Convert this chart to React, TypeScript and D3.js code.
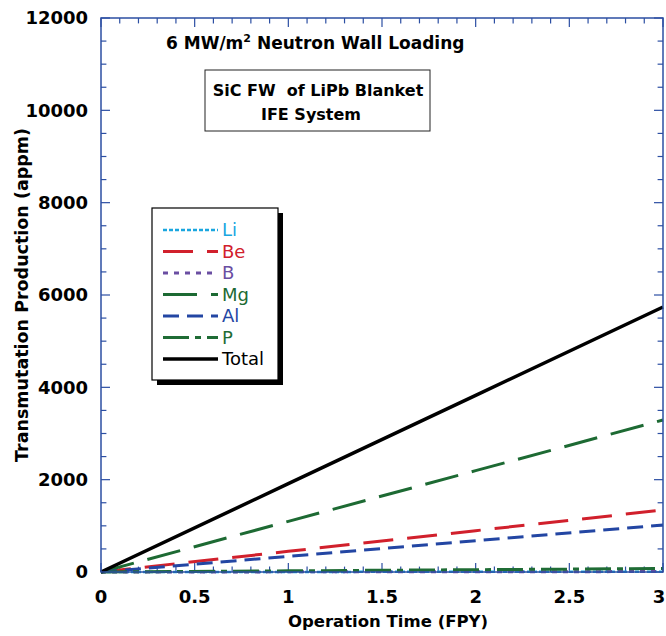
import * as d3 from "d3";
import React, { useEffect, useRef } from "react";

// operation time (FPY)
const times = [0, 1, 2, 3];
// transmutation production (appm) per element
const li = [0, 2, 4, 6];
const be = [0, 448, 895, 1343];
const b = [0, 3, 6, 9];
const mg = [0, 1097, 2195, 3292];
const al = [0, 339, 679, 1018];
const p = [0, 25, 50, 75];
const total = [0, 1913, 3827, 5740];

const names = ["Li", "Be", "B", "Mg", "Al", "P", "Total"];
const values = [li, be, b, mg, al, p, total];
const colors = ["#1aa6df", "#d1202c", "#6a4ea2", "#1d6a33", "#2346a3", "#1f6c35", "#000000"];
const dashes = ["4,2", "30,14", "5,6", "34,14", "16,8", "26,6,6,6", null];
const widths = [2.5, 3, 3, 3, 3, 3, 3.5];

const yTicks = [0, 2000, 4000, 6000, 8000, 10000, 12000];
const xTicks = [0, 0.5, 1, 1.5, 2, 2.5, 3];

const FONT = "'DejaVu Sans', Verdana, sans-serif";
const AXIS = "#2c4fa3";

export default function App() {
    const ref = useRef<SVGSVGElement>(null);

    useEffect(() => {
        document.body.style.margin = "0";
        const svg = d3.select(ref.current);
        svg.selectAll("*").remove();

        const left = 101, right = 663, top = 18, bottom = 572;
        const x = d3.scaleLinear().domain([0, 3]).range([left, right]);
        const y = d3.scaleLinear().domain([0, 12000]).range([bottom, top]);

        const g = svg.append("g");

        // minor / major ticks on all sides, pointing inward
        const xMinor = d3.range(0, 3.0001, 0.1);
        const yMinor = d3.range(0, 12001, 500);
        const tick = (len: number, major: boolean) => (major ? len : len * 0.6);

        xMinor.forEach((v) => {
            const major = Math.abs(v * 2 - Math.round(v * 2)) < 1e-6;
            const l = tick(9, major);
            g.append("line").attr("x1", x(v)).attr("x2", x(v)).attr("y1", bottom).attr("y2", bottom - l)
                .attr("stroke", AXIS).attr("stroke-width", 1.2);
            g.append("line").attr("x1", x(v)).attr("x2", x(v)).attr("y1", top).attr("y2", top + l)
                .attr("stroke", AXIS).attr("stroke-width", 1.2);
        });
        yMinor.forEach((v) => {
            const major = v % 2000 === 0;
            const l = tick(9, major);
            g.append("line").attr("y1", y(v)).attr("y2", y(v)).attr("x1", left).attr("x2", left + l)
                .attr("stroke", AXIS).attr("stroke-width", 1.2);
            g.append("line").attr("y1", y(v)).attr("y2", y(v)).attr("x1", right).attr("x2", right - l)
                .attr("stroke", AXIS).attr("stroke-width", 1.2);
        });

        // data lines
        const line = d3.line<number>().x((_, i) => x(times[i])).y((d) => y(d));
        values.forEach((vals, i) => {
            g.append("path")
                .attr("d", line(vals))
                .attr("fill", "none")
                .attr("stroke", colors[i])
                .attr("stroke-width", widths[i])
                .attr("stroke-dasharray", dashes[i]);
        });

        // frame
        g.append("rect").attr("x", left).attr("y", top).attr("width", right - left).attr("height", bottom - top)
            .attr("fill", "none").attr("stroke", AXIS).attr("stroke-width", 1.5);

        // tick labels
        g.selectAll(null).data(yTicks).join("text")
            .attr("x", 88).attr("y", (d) => y(d)).attr("dy", "0.36em")
            .attr("text-anchor", "end").attr("font-family", FONT).attr("font-weight", "bold")
            .attr("font-size", 18).text((d) => d);
        g.selectAll(null).data(xTicks).join("text")
            .attr("x", (d) => Math.min(x(d), 659)).attr("y", 603)
            .attr("text-anchor", "middle").attr("font-family", FONT).attr("font-weight", "bold")
            .attr("font-size", 18).text((d) => d);

        // axis titles
        g.append("text").attr("x", 388).attr("y", 627)
            .attr("text-anchor", "middle").attr("font-family", FONT).attr("font-weight", "bold")
            .attr("font-size", 16.5).text("Operation Time (FPY)");
        g.append("text").attr("transform", `translate(28, ${(top + bottom) / 2}) rotate(-90)`)
            .attr("text-anchor", "middle").attr("font-family", FONT).attr("font-weight", "bold")
            .attr("font-size", 17.5).text("Transmutation Production (appm)");

        // title
        const t = g.append("text").attr("x", 166).attr("y", 49).attr("font-family", FONT)
            .attr("font-weight", "bold").attr("font-size", 17);
        t.append("tspan").text("6 MW/m");
        t.append("tspan").attr("font-size", 11).attr("dy", -7).text("2");
        t.append("tspan").attr("dy", 7).text(" Neutron Wall Loading");

        // subtitle box
        g.append("rect").attr("x", 205).attr("y", 70).attr("width", 225).attr("height", 61)
            .attr("fill", "white").attr("stroke", "#222").attr("stroke-width", 1);
        g.append("text").attr("x", 318).attr("y", 96).attr("text-anchor", "middle").attr("font-family", FONT)
            .attr("font-weight", "bold").attr("font-size", 16).attr("xml:space", "preserve")
            .style("white-space", "pre").text("SiC FW  of LiPb Blanket");
        g.append("text").attr("x", 311).attr("y", 120).attr("text-anchor", "middle").attr("font-family", FONT)
            .attr("font-weight", "bold").attr("font-size", 16).text("IFE System");

        // legend
        const lg = g.append("g").attr("transform", "translate(152, 208)");
        lg.append("rect").attr("x", 5).attr("y", 5).attr("width", 126).attr("height", 172).attr("fill", "black");
        lg.append("rect").attr("x", 0).attr("y", 0).attr("width", 126).attr("height", 172)
            .attr("fill", "white").attr("stroke", "black").attr("stroke-width", 1.2);
        names.forEach((n, i) => {
            const yy = 22 + i * 21.5;
            lg.append("line").attr("x1", 11).attr("x2", 66).attr("y1", yy).attr("y2", yy)
                .attr("stroke", colors[i]).attr("stroke-width", widths[i])
                .attr("stroke-dasharray", dashes[i]);
            lg.append("text").attr("x", 70).attr("y", yy).attr("dy", "0.36em")
                .attr("font-family", FONT).attr("font-size", 18).attr("fill", colors[i]).text(n);
        });
    }, []);

    return <svg ref={ref} width={666} height={636} style={{ display: "block" }} />;
}
